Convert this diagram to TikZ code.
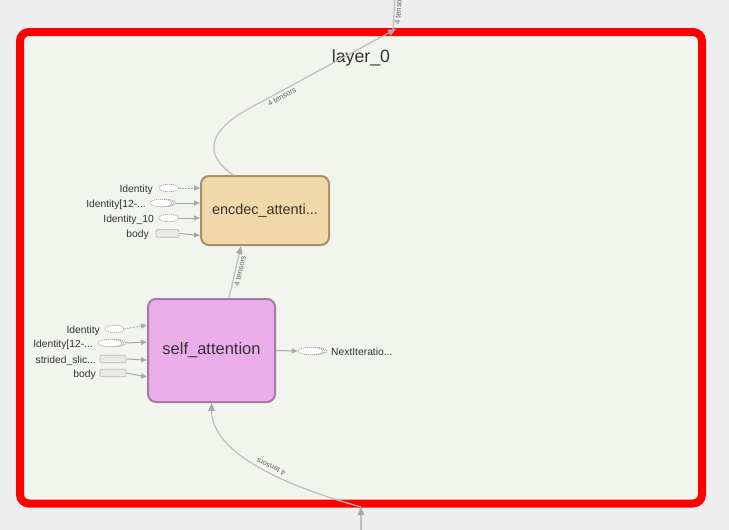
\documentclass[tikz,border=0pt]{standalone}
\usepackage{fontspec}
\setmainfont{Liberation Sans}
\usetikzlibrary{arrows.meta,shapes.geometric,calc}
\definecolor{bggray}{HTML}{EEEEEE}
\definecolor{panel}{HTML}{F1F5EE}
\definecolor{framered}{HTML}{FF0000}
\definecolor{encfill}{HTML}{F0D8A8}
\definecolor{encdraw}{HTML}{A8926E}
\definecolor{selffill}{HTML}{EBAEEB}
\definecolor{selfdraw}{HTML}{A57BA6}
\definecolor{edgegray}{HTML}{BDBDBD}
\definecolor{tipgray}{HTML}{A8A8A8}
\definecolor{txt}{HTML}{333333}
\definecolor{elabel}{HTML}{666666}
\definecolor{stubdraw}{HTML}{A0A0A0}
\definecolor{stubfill}{HTML}{E8E8E8}
\tikzset{
  edge/.style={draw=edgegray, line width=1.2pt, -{Triangle[length=8pt,width=6.5pt,color=tipgray]}},
  smalledge/.style={draw=tipgray, line width=1pt, -{Triangle[length=6pt,width=5pt,color=tipgray]}},
  dottededge/.style={smalledge, dash pattern=on 1.5pt off 1.5pt},
  stubell/.style={ellipse, draw=stubdraw, fill=white, line width=0.6pt, dash pattern=on 1.2pt off 0.8pt, minimum width=#1, minimum height=7.5pt, inner sep=0pt},
  stubrect/.style={rectangle, rounded corners=1pt, draw=stubdraw, fill=stubfill, line width=0.6pt, dash pattern=on 1.2pt off 0.8pt, minimum width=#1, minimum height=7.5pt, inner sep=0pt},
  inlabel/.style={font=\fontsize{10.3}{12}\selectfont, text=txt, inner sep=0pt, anchor=base east},
  outlabel/.style={font=\fontsize{10.3}{12}\selectfont, text=txt, inner sep=0pt, anchor=base west},
  edgelabel/.style={font=\fontsize{7.6}{8}\selectfont, text=elabel, inner sep=0pt},
  opnode/.style={rectangle, rounded corners=8pt, line width=2pt, text=txt, inner sep=0pt},
}
\begin{document}
\begin{tikzpicture}[x=1pt,y=-1pt]
\useasboundingbox (0,0) rectangle (729,530);
\clip (0,0) rectangle (729,530);
\fill[bggray] (0,0) rectangle (729,530);
% layer frame
\node[draw=framered, fill=panel, line width=8pt, rounded corners=9pt, minimum width=682pt, minimum height=471.5pt, inner sep=0pt, outer sep=0pt] (layer) at (361,267.75) {};
\node[font=\fontsize{17.7}{20}\selectfont, text=txt, anchor=base, inner sep=0pt] (layertitle) at (361,62) {layer\_0};
% op nodes
\node[opnode, draw=encdraw, fill=encfill, minimum width=128pt, minimum height=69pt, font=\fontsize{14.4}{16}\selectfont] (enc) at (265,210.5) {encdec\_attenti...};
\node[opnode, draw=selfdraw, fill=selffill, minimum width=127pt, minimum height=103pt, font=\fontsize{16.5}{18}\selectfont] (self) at (211.5,350.5) {self\_attention};
% encdec inputs
\node[stubell=20pt] (e1) at (169,188) {};
\node[inlabel] (e1l) at (153,192) {Identity};
\node[stubell=22pt] (e2c) at (165,203) {};
\node[stubell=22pt] (e2b) at (163,203) {};
\node[stubell=22pt] (e2) at (161,203) {};
\node[inlabel] (e2l) at (146,207) {Identity[12-...};
\node[stubell=20pt] (e3) at (169,218) {};
\node[inlabel] (e3l) at (154,222) {Identity\_10};
\node[stubrect=23pt] (e4) at (167.5,233.5) {};
\node[inlabel] (e4l) at (149,237.5) {body};
\draw[dottededge] (e1.east) -- (e1.east -| enc.west);
\draw[smalledge] (e2c.east) -- (e2c.east -| enc.west);
\draw[smalledge] (e3.east) -- (e3.east -| enc.west);
\draw[smalledge] (e4.east) -- ($(e4.east -| enc.west)+(0,2)$);
% self_attention inputs
\node[stubell=19pt] (s1) at (114.5,329) {};
\node[inlabel] (s1l) at (100,333) {Identity};
\node[stubell=24pt] (s2c) at (114,343) {};
\node[stubell=24pt] (s2b) at (112,343) {};
\node[stubell=24pt] (s2) at (110,343) {};
\node[inlabel] (s2l) at (93,347) {Identity[12-...};
\node[stubrect=26pt] (s3) at (113,359) {};
\node[inlabel] (s3l) at (96,363) {strided\_slic...};
\node[stubrect=26pt] (s4) at (113,373) {};
\node[inlabel] (s4l) at (96,377) {body};
\draw[dottededge] (s1.east) -- ($(self.west)+(0,-25.5)$);
\draw[smalledge] (s2c.east) -- ($(self.west)+(0,-8.5)$);
\draw[smalledge] (s3.east) -- ($(self.west)+(0,9.5)$);
\draw[smalledge] (s4.east) -- ($(self.west)+(0,26.5)$);
% output
\node[stubell=25pt] (o1c) at (314.5,351) {};
\node[stubell=25pt] (o1b) at (312.5,351) {};
\node[stubell=25pt] (o1) at (310.5,351) {};
\node[outlabel] (o1l) at (331,355) {NextIteratio...};
\draw[smalledge] (self.east) -- (o1.west);
% self -> enc
\draw[edge] ($(self.north)+(17.5,0)$) -- ($(enc.south)+(-24,0)$);
\node[edgelabel, rotate=77.5] (lab1) at (240,271) {4 tensors};
% enc -> out of layer
\coordinate (topexit) at (396,29);
\coordinate (topout) at (395,-2);
\draw[edge] ($(enc.north)+(-32,0)$) .. controls (193,147) and (224,122) .. (250,108) -- (topexit);
\draw[draw=edgegray, line width=1.2pt] (393,30) -- (topout);
\node[edgelabel, rotate=29] (lab2) at (282,96.5) {4 tensors};
\node[edgelabel, rotate=86] (lab3) at (398.5,9) {4 tensors};
% into layer -> self
\coordinate (botin) at (361,532);
\coordinate (botentry) at (361,507);
\draw[edge] (botin) -- (botentry);
\draw[edge] (botentry) .. controls (290,487) and (212,455) .. (self.south);
\node[edgelabel, rotate=154] (lab4) at (271,467) {4 tensors};
\end{tikzpicture}
\end{document}
